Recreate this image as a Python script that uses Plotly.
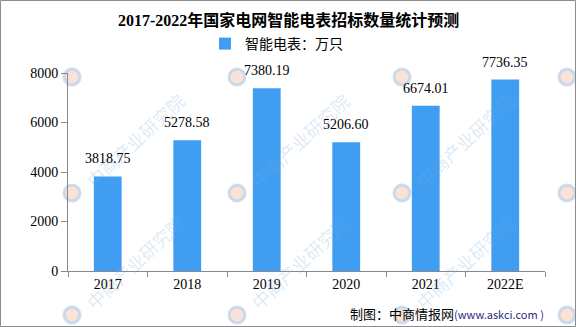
import plotly.graph_objects as go

categories = ["2017", "2018", "2019", "2020", "2021", "2022E"]
values = [3818.75, 5278.58, 7380.19, 5206.60, 6674.01, 7736.35]
labels = ["3818.75", "5278.58", "7380.19", "5206.60", "6674.01", "7736.35"]
y_ticks = [0, 2000, 4000, 6000, 8000]
watermark_text = "中商产业研究院"

W, H = 576, 327
L, R, T, B = 68, 31, 73, 56
PW, PH = W - L - R, H - T - B


def px(x):
    return (x - L) / PW


def py(y):
    return (H - B - y) / PH


bar_color = "#409ef2"
num_font = "Liberation Serif, DejaVu Serif, serif"
cjk_font = "Noto Sans CJK SC, sans-serif"

fig = go.Figure()
fig.add_trace(go.Bar(
    x=categories, y=values, name="智能电表：万只",
    marker=dict(color=bar_color, line=dict(width=0)),
    width=0.35,
))

# watermarks (faint): logos everywhere, text only where it fits inside the image
for lx in [-93, 72, 237, 402, 567]:
    for ly in [-40, 77, 193, 315]:
        fig.add_shape(type="circle", xref="paper", yref="paper",
                      x0=px(lx - 8), x1=px(lx + 8), y0=py(ly + 8), y1=py(ly - 8),
                      fillcolor="rgba(247,190,165,0.45)",
                      line=dict(color="rgba(180,210,238,0.7)", width=3),
                      layer="below")
        cx, cy = lx + 63, ly - 53
        if 60 <= cx <= 520 and 60 <= cy <= 270:
            fig.add_annotation(xref="paper", yref="paper", x=px(cx), y=py(cy),
                               text=watermark_text, showarrow=False, textangle=-43,
                               xanchor="center", yanchor="middle",
                               font=dict(family=cjk_font, size=18,
                                         color="rgba(120,170,220,0.25)"))

for i, (v, lab) in enumerate(zip(values, labels)):
    fig.add_annotation(x=i, y=v, text=lab, showarrow=False, yanchor="bottom",
                       yshift=8, font=dict(family=num_font, size=14, color="#000"))

fig.add_annotation(xref="paper", yref="paper", x=px(288.5), y=py(20),
                   text="<b>2017-2022年国家电网智能电表招标数量统计预测</b>",
                   showarrow=False, xanchor="center", yanchor="middle",
                   font=dict(family="Liberation Serif, Noto Sans CJK SC, serif", size=16, color="#000"))

fig.add_annotation(xref="paper", yref="paper", x=px(546), y=py(313),
                   text="制图：中商情报网<span style='font-size:11px;color:#2a2a80'>(www.askci.com )</span>",
                   showarrow=False, xanchor="right", yanchor="middle",
                   font=dict(family=cjk_font, size=13, color="#000"))

# frame
fig.add_shape(type="rect", xref="paper", yref="paper",
              x0=px(0.5), x1=px(W - 0.5), y0=py(H - 0.5), y1=py(0.5),
              line=dict(color="#8c8c8c", width=1), layer="below")

fig.update_layout(
    width=W, height=H,
    margin=dict(l=L, r=R, t=T, b=B),
    paper_bgcolor="white", plot_bgcolor="rgba(0,0,0,0)",
    showlegend=True,
    legend=dict(orientation="h", x=px(205), xanchor="left",
                y=py(44), yanchor="middle",
                font=dict(family=cjk_font, size=14, color="#000"),
                bgcolor="rgba(0,0,0,0)"),
)

fig.update_xaxes(
    type="category",
    showline=True, linecolor="#888", linewidth=1,
    ticks="outside", ticklen=5, tickcolor="#888",
    tickson="boundaries",
    tickfont=dict(family=num_font, size=14, color="#000"),
    showgrid=False,
)
fig.update_yaxes(
    range=[0, 8000], tickvals=y_ticks,
    showline=True, linecolor="#888", linewidth=1,
    ticks="outside", ticklen=6, tickcolor="#888",
    tickfont=dict(family=num_font, size=14, color="#000"),
    showgrid=False, zeroline=False,
)

fig.write_html("out.html")
